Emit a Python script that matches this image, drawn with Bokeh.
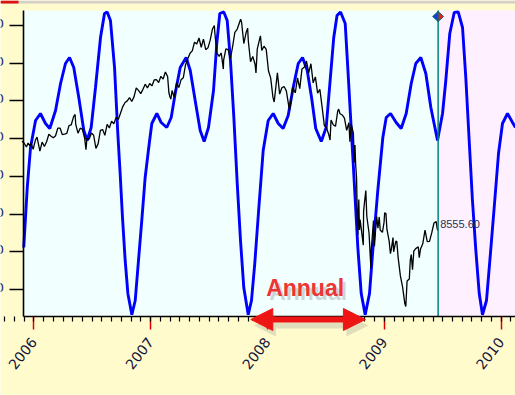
import numpy as np
import pandas as pd
from bokeh.plotting import figure
from bokeh.models import (Range1d, FixedTicker, BoxAnnotation, Label, Arrow,
                          NormalHead, PrintfTickFormatter, CustomJSTickFormatter)
from bokeh.embed import file_html
from bokeh.resources import INLINE

# ---------------- data ----------------
price_dates = [
    "2005-11-25", "2005-12-02", "2005-12-09", "2005-12-14", "2005-12-20", "2005-12-23", "2005-12-30",
    "2006-01-06", "2006-01-11", "2006-01-13", "2006-01-20", "2006-01-27", "2006-02-03", "2006-02-10",
    "2006-02-17", "2006-02-24", "2006-03-03", "2006-03-10", "2006-03-17", "2006-03-24", "2006-03-31",
    "2006-04-07", "2006-04-14", "2006-04-21", "2006-04-28", "2006-05-05", "2006-05-10", "2006-05-12",
    "2006-05-19", "2006-05-26", "2006-06-02", "2006-06-09", "2006-06-13", "2006-06-16", "2006-06-23",
    "2006-06-30", "2006-07-07", "2006-07-14", "2006-07-21", "2006-07-28", "2006-08-04", "2006-08-11",
    "2006-08-18", "2006-08-25", "2006-09-01", "2006-09-08", "2006-09-15", "2006-09-22", "2006-09-29",
    "2006-10-06", "2006-10-13", "2006-10-20", "2006-10-27", "2006-11-03", "2006-11-10", "2006-11-17",
    "2006-11-24", "2006-12-01", "2006-12-08", "2006-12-15", "2006-12-22", "2006-12-29", "2007-01-05",
    "2007-01-12", "2007-01-19", "2007-01-26", "2007-02-02", "2007-02-09", "2007-02-16", "2007-02-23",
    "2007-02-27", "2007-03-02", "2007-03-05", "2007-03-09", "2007-03-14", "2007-03-16", "2007-03-23",
    "2007-03-30", "2007-04-06", "2007-04-13", "2007-04-20", "2007-04-27", "2007-05-04", "2007-05-11",
    "2007-05-18", "2007-05-25", "2007-06-01", "2007-06-08", "2007-06-15", "2007-06-22", "2007-06-29",
    "2007-07-06", "2007-07-13", "2007-07-19", "2007-07-20", "2007-07-27", "2007-08-03", "2007-08-09",
    "2007-08-10", "2007-08-16", "2007-08-17", "2007-08-24", "2007-08-31", "2007-09-07", "2007-09-14",
    "2007-09-21", "2007-09-28", "2007-10-05", "2007-10-09", "2007-10-12", "2007-10-19", "2007-10-26",
    "2007-10-31", "2007-11-02", "2007-11-09", "2007-11-16", "2007-11-23", "2007-11-26", "2007-11-30",
    "2007-12-07", "2007-12-10", "2007-12-14", "2007-12-21", "2007-12-28", "2008-01-04", "2008-01-11",
    "2008-01-18", "2008-01-22", "2008-01-25", "2008-02-01", "2008-02-08", "2008-02-15", "2008-02-22",
    "2008-02-29", "2008-03-07", "2008-03-10", "2008-03-14", "2008-03-20", "2008-03-28", "2008-04-04",
    "2008-04-11", "2008-04-18", "2008-04-25", "2008-05-02", "2008-05-09", "2008-05-16", "2008-05-23",
    "2008-05-30", "2008-06-06", "2008-06-13", "2008-06-20", "2008-06-27", "2008-07-04", "2008-07-11",
    "2008-07-15", "2008-07-18", "2008-07-25", "2008-08-01", "2008-08-08", "2008-08-11", "2008-08-15",
    "2008-08-22", "2008-08-29", "2008-09-05", "2008-09-12", "2008-09-15", "2008-09-19", "2008-09-26",
    "2008-09-29", "2008-10-01", "2008-10-03", "2008-10-06", "2008-10-09", "2008-10-10", "2008-10-13",
    "2008-10-15", "2008-10-17", "2008-10-22", "2008-10-24", "2008-10-27", "2008-10-28", "2008-10-31",
    "2008-11-04", "2008-11-07", "2008-11-14", "2008-11-20", "2008-11-21", "2008-11-28", "2008-12-01",
    "2008-12-05", "2008-12-08", "2008-12-12", "2008-12-16", "2008-12-19", "2008-12-26", "2008-12-31",
    "2009-01-02", "2009-01-06", "2009-01-09", "2009-01-16", "2009-01-20", "2009-01-23", "2009-01-28",
    "2009-01-30", "2009-02-06", "2009-02-09", "2009-02-13", "2009-02-20", "2009-02-27", "2009-03-06",
    "2009-03-09", "2009-03-13", "2009-03-20", "2009-03-23", "2009-03-26", "2009-03-30", "2009-04-03",
    "2009-04-09", "2009-04-17", "2009-04-20", "2009-04-24", "2009-05-01", "2009-05-08", "2009-05-15",
    "2009-05-22", "2009-05-29", "2009-06-05", "2009-06-12", "2009-06-15", "2009-06-18",
]
price_values = [
    10931, 10877, 10778, 10883, 10805, 10883, 10718,
    10959, 11043, 10959, 10667, 10907, 10793, 10919,
    11116, 11062, 11022, 11076, 11279, 11280, 11109,
    11120, 11137, 11347, 11367, 11577, 11642, 11380,
    11144, 11278, 11247, 11000, 10706, 11015, 10989,
    11150, 11090, 10739, 10868, 11219, 11240, 11088,
    11381, 11284, 11464, 11392, 11560, 11508, 11679,
    11850, 11960, 12002, 12090, 11986, 12108, 12342,
    12280, 12194, 12307, 12445, 12343, 12463, 12398,
    12556, 12565, 12487, 12653, 12580, 12767, 12647,
    12216, 12114, 12050, 12276, 12133, 12110, 12481,
    12354, 12560, 12612, 12961, 13120, 13264, 13326,
    13556, 13507, 13668, 13424, 13639, 13360, 13408,
    13611, 13907, 14000, 13851, 13265, 13182, 13271,
    13239, 12845, 13079, 13378, 13358, 13113, 13442,
    13820, 13896, 14066, 14164, 14093, 13522, 13806,
    13930, 13595, 13042, 13177, 12980, 12743, 13372,
    13626, 13727, 13339, 13451, 13366, 12800, 12606,
    12100, 11971, 12207, 12743, 12182, 12348, 12381,
    12266, 11894, 11740, 11951, 12361, 12216, 12609,
    12325, 12849, 12891, 13058, 12745, 12986, 12480,
    12638, 12209, 12307, 11843, 11346, 11289, 11101,
    10963, 11496, 11370, 11326, 11734, 11782, 11659,
    11628, 11544, 11220, 11422, 10917, 11388, 11143,
    10365, 10831, 10325, 9955, 8579, 8451, 9387,
    8578, 8852, 8519, 8378, 8175, 9065, 9325,
    9625, 8943, 8497, 7552, 8046, 8829, 8149,
    8635, 8934, 8629, 8924, 8579, 8515, 8776,
    9034, 9015, 8599, 8281, 7949, 8077, 8375,
    8001, 8280, 8270, 7850, 7366, 7063, 6627,
    6547, 7224, 7279, 7776, 7925, 7522, 8018,
    8083, 8131, 7841, 8076, 8212, 8575, 8268,
    8277, 8500, 8763, 8799, 8612, 8555.60,
]

cycle_years = [
    2005.914, 2005.944, 2005.972, 2006.015, 2006.057, 2006.100, 2006.137, 2006.186, 2006.229, 2006.271,
    2006.306, 2006.342, 2006.385, 2006.428, 2006.457, 2006.491, 2006.528, 2006.571, 2006.605, 2006.628,
    2006.656, 2006.691, 2006.719, 2006.739, 2006.759, 2006.782, 2006.805, 2006.839, 2006.868, 2006.896,
    2006.924, 2006.953, 2006.988, 2007.010, 2007.053, 2007.090, 2007.138, 2007.176, 2007.210, 2007.253,
    2007.304, 2007.339, 2007.381, 2007.424, 2007.458, 2007.495, 2007.538, 2007.566, 2007.592, 2007.626,
    2007.655, 2007.683, 2007.712, 2007.741, 2007.769, 2007.797, 2007.835, 2007.863, 2007.891, 2007.926,
    2007.963, 2008.006, 2008.049, 2008.092, 2008.134, 2008.177, 2008.220, 2008.263, 2008.300, 2008.340,
    2008.377, 2008.413, 2008.460, 2008.502, 2008.531, 2008.567, 2008.595, 2008.625, 2008.665, 2008.687,
    2008.716, 2008.745, 2008.773, 2008.802, 2008.836, 2008.873, 2008.901, 2008.944, 2008.987, 2009.016,
    2009.053, 2009.101, 2009.144, 2009.187, 2009.230, 2009.269, 2009.312, 2009.355, 2009.398, 2009.455,
    2009.498, 2009.526, 2009.560, 2009.598, 2009.632, 2009.669, 2009.697, 2009.726, 2009.754, 2009.783,
    2009.812, 2009.840, 2009.874, 2009.903, 2009.940, 2009.977, 2010.011, 2010.054, 2010.097, 2010.122,
]
cycle_values = [
    8113, 9704, 10765, 11481, 11667, 11401, 11269, 11746, 12462, 12992,
    13151, 12886, 12091, 11216, 10951, 11295, 12356, 13682, 14318, 14360,
    14133, 12886, 11136, 10076, 8909, 7769, 6894, 6330, 6708, 7769,
    8829, 9970, 10871, 11401, 11667, 11428, 11295, 11561, 12197, 12886,
    13151, 12807, 12011, 11216, 10924, 11295, 12276, 13523, 14318, 14360,
    14133, 13072, 11561, 9810, 8299, 7053, 6330, 6708, 7689, 9174,
    10685, 11481, 11667, 11401, 11269, 11614, 12356, 12992, 13151, 12807,
    12091, 11269, 10924, 11295, 12356, 13682, 14265, 14360, 14053, 12886,
    11295, 9704, 8113, 6894, 6330, 6894, 8034, 9625, 11030, 11561,
    11667, 11428, 11269, 11667, 12462, 12992, 13151, 12727, 11826, 10951,
    11667, 12542, 13788, 14345, 14360, 13947, 12621, 10951, 9360, 8034,
    6894, 6330, 6708, 7769, 9174, 10606, 11401, 11667, 11428, 11295,
]

year_ticks = [2006, 2007, 2008, 2009, 2010]
price_ticks = [7000, 8000, 9000, 10000, 11000, 12000, 13000, 14000]
annual_start = 2007.857   # trough-to-trough span marked "Annual"
annual_end = 2008.838
annual_text = "Annual"

# ---------------- derived ----------------
d = pd.to_datetime(price_dates)
price_x = np.asarray(d.year + (d.dayofyear - 1) / np.where(d.is_leap_year, 366.0, 365.0), dtype=float)
month_ticks = [y + m / 12 for y in range(2005, 2011) for m in range(12)]

W, H = 515, 395
PX_PER_YEAR = 116.85
PTS_PER_PX = 26.516
X0 = 2006 - 33.3 / PX_PER_YEAR          # canvas left edge
X1 = X0 + W / PX_PER_YEAR
YT = 14000 + 25 * PTS_PER_PX            # canvas top edge
YB = YT - H * PTS_PER_PX
xpp = 1 / PX_PER_YEAR
ypp = PTS_PER_PX


def sx(px):
    return X0 + px * xpp


def sy(py):
    return YT - py * ypp


X_AXIS_AT = sy(316)   # value at which the horizontal axis sits
Y_AXIS_AT = sx(23)    # year at which the vertical axis sits
PLOT_TOP = sy(10)

p = figure(width=W, height=H, output_backend="svg", toolbar_location=None,
           x_range=Range1d(X0, X1), y_range=Range1d(YB, YT),
           min_border=0, background_fill_color="#FFFBCD", border_fill_color="#FFFBCD",
           outline_line_color=None)
p.grid.visible = False

# window chrome strip at the very top
p.add_layout(BoxAnnotation(bottom=sy(3), fill_color="#D4D0C8", fill_alpha=1, line_alpha=0, level="underlay"))
p.add_layout(BoxAnnotation(bottom=sy(3), right=sx(18), fill_color="#E01010", fill_alpha=1, line_alpha=0, level="underlay"))
# plot area and future (pink) zone
last_x = float(price_x[-1])
last_v = float(price_values[-1])
p.add_layout(BoxAnnotation(left=Y_AXIS_AT, bottom=X_AXIS_AT, top=PLOT_TOP, fill_color="#F2FFFF",
                           fill_alpha=1, line_alpha=0, level="underlay"))
p.add_layout(BoxAnnotation(left=last_x, bottom=X_AXIS_AT, top=PLOT_TOP, fill_color="#FFF0FF",
                           fill_alpha=1, line_alpha=0, level="underlay"))

xa = p.xaxis[0]
xa.fixed_location = X_AXIS_AT
xa.bounds = (Y_AXIS_AT, X1)
xa.ticker = FixedTicker(ticks=year_ticks, minor_ticks=month_ticks)
xa.formatter = PrintfTickFormatter(format="%d")
xa.major_label_orientation = 0.9
xa.major_label_text_font = "DejaVu Sans"
xa.major_label_text_font_size = "14px"
xa.major_label_text_color = "#14143a"
xa.major_label_standoff = 10
xa.major_tick_line_color = "#e00000"
xa.major_tick_line_width = 1.5
xa.major_tick_out = 13
xa.major_tick_in = 0
xa.minor_tick_line_color = "black"
xa.minor_tick_line_width = 1.2
xa.minor_tick_out = 5
xa.minor_tick_in = 0
xa.axis_line_color = "black"
xa.axis_line_width = 1.6

ya = p.yaxis[0]
ya.fixed_location = Y_AXIS_AT
ya.bounds = (X_AXIS_AT, PLOT_TOP)
ya.ticker = FixedTicker(ticks=price_ticks, minor_ticks=[])
ya.formatter = CustomJSTickFormatter(code="return ''")
ya.major_label_standoff = 0
ya.major_tick_out = 14
ya.major_tick_in = 0
ya.major_tick_line_width = 1.5
ya.major_tick_line_color = "black"
ya.axis_line_color = "black"
ya.axis_line_width = 1.6

# price tick labels, clipped by the window's left edge as in the original
for t in price_ticks:
    p.add_layout(Label(x=sx(3.5), y=t, text=f"{t}", text_align="right", text_baseline="middle",
                       y_offset=2, text_font="DejaVu Sans", text_font_size="13px",
                       text_color="#1a2a70"))

p.line(cycle_years, cycle_values, line_color="#0000FF", line_width=2.9)
p.line(price_x, price_values, line_color="black", line_width=1.3)

p.segment(x0=[last_x], y0=[X_AXIS_AT], x1=[last_x], y1=[PLOT_TOP], line_color="#008080", line_width=1.5)

p.add_layout(Label(x=last_x, y=last_v, text=f"{last_v:.2f}", x_offset=2, y_offset=7,
                   text_baseline="middle", text_font="Liberation Sans",
                   text_font_size="11px", text_color="#283450"))

# marker at top of the current-date line: blue left half, red right half
cy = sy(16)
hx, hy = 5.5 * xpp, 5 * ypp
p.patches([[last_x - hx, last_x, last_x], [last_x, last_x + hx, last_x]],
          [[cy, cy + hy, cy - hy], [cy + hy, cy, cy - hy]],
          fill_color=["#1a3ae0", "#e82020"], line_color="#006f6f", line_width=1)

# "Annual" double arrow with soft shadow
ay = sy(319)
p.add_layout(Arrow(start=NormalHead(size=22, fill_color="#888888", line_color=None, fill_alpha=0.25),
                   end=NormalHead(size=22, fill_color="#888888", line_color=None, fill_alpha=0.25),
                   x_start=annual_start + 3 * xpp, x_end=annual_end + 3 * xpp,
                   y_start=ay - 6 * ypp, y_end=ay - 6 * ypp,
                   line_color="#888888", line_alpha=0.25, line_width=6))
p.add_layout(Arrow(start=NormalHead(size=22, fill_color="#EE1515", line_color="#EE1515"),
                   end=NormalHead(size=22, fill_color="#EE1515", line_color="#EE1515"),
                   x_start=annual_start, x_end=annual_end, y_start=ay, y_end=ay,
                   line_color="#EE1515", line_width=6))

ty = sy(287.5)
tx = (annual_start + annual_end) / 2 - 3 * xpp
p.add_layout(Label(x=tx + 3 * xpp, y=ty - 4 * ypp, text=annual_text, text_align="center",
                   text_baseline="alphabetic", text_font="Liberation Sans",
                   text_font_style="bold", text_font_size="23px",
                   text_color="#888888", text_alpha=0.35))
p.add_layout(Label(x=tx, y=ty, text=annual_text, text_align="center",
                   text_baseline="alphabetic", text_font="Liberation Sans",
                   text_font_style="bold", text_font_size="23px", text_color="#EE3535"))

open("out.html", "w").write(file_html(p, INLINE))
